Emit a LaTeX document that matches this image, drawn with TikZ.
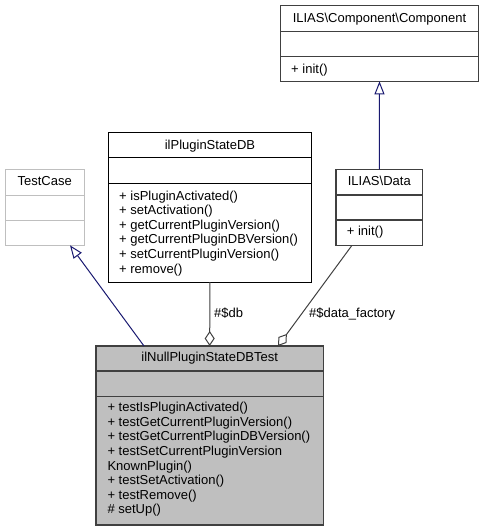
\documentclass[tikz,border=0pt]{standalone}
\usepackage{fontspec}
\setmainfont{Liberation Sans}
\usetikzlibrary{arrows.meta}
\definecolor{inh}{HTML}{191970}
\definecolor{dk}{HTML}{404040}
\definecolor{lg}{HTML}{BFBFBF}
\begin{document}
\begin{tikzpicture}[x=1pt,y=-1pt,
  box/.style={draw, line width=1pt, inner sep=0pt, outer sep=0pt, anchor=north west},
  txt/.style={inner sep=0pt, anchor=base west, font=\fontsize{13}{15}\selectfont},
  ttl/.style={inner sep=0pt, anchor=base, font=\fontsize{13}{15}\selectfont},
  inhe/.style={draw=inh, line width=1pt, -{Triangle[open,length=13pt,width=10pt]}},
  agg/.style={draw=dk, line width=1pt, -{Diamond[open,length=15pt,width=10pt]}},
]
\useasboundingbox (0,0) rectangle (483,531);

% ILIAS\Component\Component
\node[box, draw=dk, line width=1.3pt, minimum width=197.6pt, minimum height=75.6pt] (comp) at (280.7,5.7) {};
\draw[dk, line width=1.3pt] (280.7,31.7) -- (478.3,31.7) (280.7,56.7) -- (478.3,56.7);
\node[ttl] (compt) at (379.5,22) {ILIAS\textbackslash Component\textbackslash Component};
\node[txt] (compm) at (291,73.5) {+ init()};

% TestCase
\node[box, draw=lg, minimum width=79.3pt, minimum height=76pt] (tc) at (5,169.3) {};
\draw[lg, line width=1pt] (5,195) -- (84.3,195) (5,220) -- (84.3,220);
\node[ttl] (tct) at (44.7,185) {TestCase};

% ilPluginStateDB
\node[box, draw=black, minimum width=202.6pt, minimum height=149.3pt] (psdb) at (108.7,132.7) {};
\draw[black, line width=1pt] (108.7,157.7) -- (311.3,157.7) (108.7,183) -- (311.3,183);
\node[ttl] (psdbt) at (210,149.5) {ilPluginStateDB};
\node[txt] (p1) at (119,200) {+ isPluginActivated()};
\node[txt] (p2) at (119,214.6) {+ setActivation()};
\node[txt] (p3) at (119,229.2) {+ getCurrentPluginVersion()};
\node[txt] (p4) at (119,243.8) {+ getCurrentPluginDBVersion()};
\node[txt] (p5) at (119,258.4) {+ setCurrentPluginVersion()};
\node[txt] (p6) at (119,273) {+ remove()};

% ILIAS\Data
\node[box, draw=dk, line width=1.3pt, minimum width=86.7pt, minimum height=76pt] (data) at (336,169.3) {};
\draw[dk, line width=1.3pt] (336,195) -- (422.7,195) (336,220) -- (422.7,220);
\node[ttl] (datat) at (379.3,185) {ILIAS\textbackslash Data};
\node[txt] (datam) at (346.7,235) {+ init()};

% ilNullPluginStateDBTest
\node[box, draw=dk, line width=1.3pt, fill=lg, minimum width=227.3pt, minimum height=179pt] (main) at (96,346) {};
\draw[dk, line width=1.3pt] (96,371) -- (323.3,371) (96,396.7) -- (323.3,396.7);
\node[ttl] (maint) at (209.7,361.7) {ilNullPluginStateDBTest};
\node[txt] (m1) at (107.3,411.7) {+ testIsPluginActivated()};
\node[txt] (m2) at (107.3,426.3) {+ testGetCurrentPluginVersion()};
\node[txt] (m3) at (107.3,440.9) {+ testGetCurrentPluginDBVersion()};
\node[txt] (m4) at (107.3,455.5) {+ testSetCurrentPluginVersion};
\node[txt] (m5) at (107.3,470.1) {KnownPlugin()};
\node[txt] (m6) at (107.3,484.7) {+ testSetActivation()};
\node[txt] (m7) at (107.3,499.3) {+ testRemove()};
\node[txt] (m8) at (107.3,513.9) {\# setUp()};

% connector end points
\coordinate (mainL) at (144,346);
\coordinate (tcB) at (70,245.3);
\coordinate (dataB) at (352,245.3);
\coordinate (mainR) at (278,346);

% connectors
\draw[inhe] (mainL) -- (tcB);
\draw[inhe] (data.north) -- (comp.south);
\draw[agg] (psdb.south) -- (main.north);
\draw[agg] (dataB) -- (mainR);

% labels
\node[txt] (ldb) at (214,317) {\#\$db};
\node[txt] (ldf) at (309,317) {\#\$data\_factory};
\end{tikzpicture}
\end{document}
